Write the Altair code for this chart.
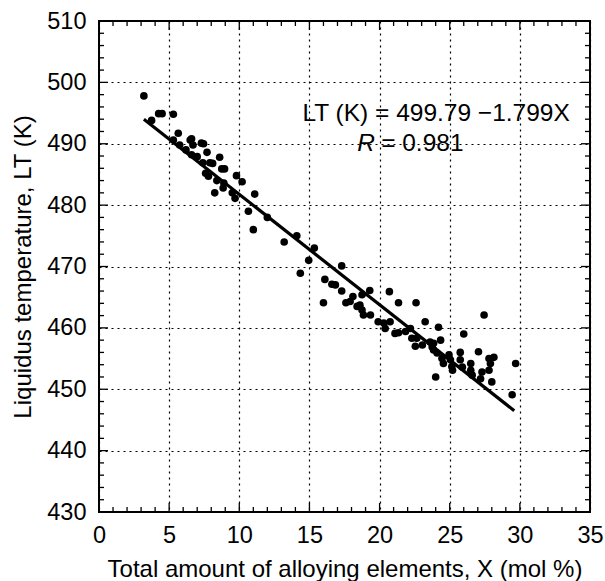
import altair as alt
import pandas as pd

# Scatter data
x_vals = [3.2, 3.75, 4.25, 4.5, 5.3, 5.65, 5.3, 5.75, 6.2, 6.5, 6.7, 6.6, 6.6, 7.0, 7.3, 7.45,
          7.7, 8.6, 7.4, 7.9, 8.1, 7.6, 7.8, 8.75, 8.95, 8.4, 8.9, 9.8, 10.2, 8.25, 8.85, 9.5,
          9.7, 11.1, 10.65, 11.0, 12.0, 13.2, 14.1, 15.35, 14.95, 14.35, 17.3, 16.1, 16.6, 16.85,
          17.3, 16.0, 17.6, 17.9, 18.1, 18.4, 18.75, 19.3, 18.6, 18.75, 18.85, 19.35, 20.7, 21.35,
          22.6, 19.9, 20.3, 20.4, 20.75, 21.1, 21.35, 21.85, 22.2, 23.25, 22.3, 22.65, 22.55, 23.05,
          23.6, 23.85, 23.85, 24.2, 27.45, 26.0, 23.75, 24.1, 24.45, 24.55, 24.35, 24.95, 25.05,
          25.15, 25.2, 24.0, 25.75, 25.75, 25.9, 26.5, 26.5, 26.6, 27.05, 27.3, 27.2, 27.8, 28.15,
          27.9, 27.8, 28.0, 29.7, 29.45]
y_vals = [497.8, 493.8, 494.9, 494.9, 494.8, 491.7, 490.6, 489.8, 489.0, 490.6, 489.8, 490.8, 488.2, 487.9, 490.1, 490.0,
          488.6, 487.8, 486.9, 486.9, 486.8, 485.2, 484.7, 485.9, 485.9, 484.0, 483.6, 484.8, 483.8, 482.0, 482.8, 482.0,
          481.1, 481.8, 479.0, 476.0, 478.0, 474.0, 475.0, 473.0, 471.0, 468.9, 470.1, 467.9, 467.1, 467.0,
          466.0, 464.1, 464.1, 464.3, 465.1, 463.5, 465.4, 466.1, 463.7, 462.9, 462.1, 462.1, 465.9, 464.1,
          464.1, 461.0, 460.8, 459.9, 461.0, 459.1, 459.2, 459.4, 459.9, 461.0, 458.3, 458.3, 457.0, 457.2,
          457.7, 457.5, 456.4, 460.1, 462.1, 459.0, 456.9, 455.9, 455.0, 454.2, 458.0, 455.6, 454.8,
          453.7, 453.1, 452.0, 456.0, 454.8, 453.6, 454.2, 453.1, 452.3, 456.1, 452.8, 451.7, 455.0, 455.2,
          454.2, 453.1, 451.2, 454.2, 449.1]

# Fitted line end points
line_x = [3.2, 29.6]
line_y = [494.0, 446.5]

x_ticks = [0, 5, 10, 15, 20, 25, 30, 35]
y_ticks = [430, 440, 450, 460, 470, 480, 490, 500, 510]
x_minor = [v for v in range(0, 36) if v % 5 != 0]
y_minor = [v for v in range(430, 511, 2) if v % 10 != 0]

eq_text = ["LT (K) = 499.79 \u22121.799X"]
r_label = ["R"]
r_value = ["= 0.981"]

W, H = 491, 491
FONT = "Liberation Sans"
LFS = 23.5
TFS = 24

xs = alt.Scale(domain=[0, 35], nice=False, zero=False)
ys = alt.Scale(domain=[430, 510], nice=False, zero=False)

pts = pd.DataFrame({"x": x_vals, "y": y_vals})
line_df = pd.DataFrame({"x": line_x, "y": line_y})

x_axis = alt.Axis(values=x_ticks, grid=True, gridDash=[2, 4], gridColor="black", gridOpacity=1,
                  gridWidth=1.2, ticks=False, domain=False, labelFontSize=LFS, labelFont=FONT,
                  labelColor="black", labelPadding=11, title="Total amount of alloying elements, X (mol %)",
                  titleFont=FONT, titleFontSize=TFS, titleFontWeight="normal", titleColor="black",
                  titlePadding=11, labelFlush=False)
y_axis = alt.Axis(values=y_ticks, grid=True, gridDash=[2, 4], gridColor="black", gridOpacity=1,
                  gridWidth=1.2, ticks=False, domain=False, labelFontSize=LFS, labelFont=FONT,
                  labelColor="black", labelPadding=13, title="Liquidus temperature, LT (K)",
                  titleFont=FONT, titleFontSize=TFS, titleFontWeight="normal", titleColor="black",
                  titlePadding=11, labelFlush=False)

points = alt.Chart(pts).mark_circle(size=58, color="black", opacity=1).encode(
    x=alt.X("x:Q", scale=xs, axis=x_axis),
    y=alt.Y("y:Q", scale=ys, axis=y_axis),
)

fit = alt.Chart(line_df).mark_line(color="black", strokeWidth=3.2).encode(
    x=alt.X("x:Q", scale=xs), y=alt.Y("y:Q", scale=ys)
)


def vticks(vals, length, top):
    df = pd.DataFrame({"v": vals})
    if top:
        return alt.Chart(df).mark_rule(color="black", strokeWidth=1.3).encode(
            x=alt.X("v:Q", scale=xs), y=alt.value(0), y2=alt.value(length))
    return alt.Chart(df).mark_rule(color="black", strokeWidth=1.3).encode(
        x=alt.X("v:Q", scale=xs), y=alt.value(H), y2=alt.value(H - length))


def hticks(vals, length, left):
    df = pd.DataFrame({"v": vals})
    if left:
        return alt.Chart(df).mark_rule(color="black", strokeWidth=1.3).encode(
            y=alt.Y("v:Q", scale=ys), x=alt.value(0), x2=alt.value(length))
    return alt.Chart(df).mark_rule(color="black", strokeWidth=1.3).encode(
        y=alt.Y("v:Q", scale=ys), x=alt.value(W), x2=alt.value(W - length))


tick_layers = [
    vticks(x_ticks, 9, True), vticks(x_ticks, 9, False),
    vticks(x_minor, 5, True), vticks(x_minor, 5, False),
    hticks(y_ticks, 9, True), hticks(y_ticks, 9, False),
    hticks(y_minor, 5, True), hticks(y_minor, 5, False),
]

eq = alt.Chart(pd.DataFrame({"t": eq_text})).mark_text(
    font=FONT, fontSize=24.5, align="left", baseline="middle", color="black"
).encode(x=alt.datum(14.5, scale=xs), y=alt.datum(494.9, scale=ys), text="t:N")

r1 = alt.Chart(pd.DataFrame({"t": r_label})).mark_text(
    font=FONT, fontSize=24.5, fontStyle="italic", align="left", baseline="middle", color="black"
).encode(x=alt.datum(18.4, scale=xs), y=alt.datum(490.0, scale=ys), text="t:N")

r2 = alt.Chart(pd.DataFrame({"t": r_value})).mark_text(
    font=FONT, fontSize=24.5, align="left", baseline="middle", color="black", dx=24
).encode(x=alt.datum(18.4, scale=xs), y=alt.datum(490.0, scale=ys), text="t:N")

chart = alt.layer(points, fit, *tick_layers, eq, r1, r2).properties(
    width=W, height=H,
    autosize=alt.AutoSizeParams(type="none"),
    padding={"left": 99, "top": 21, "right": 15, "bottom": 69},
    background="white",
).configure_view(stroke="black", strokeWidth=2)

chart.save("out.html", embed_options={"renderer": "svg", "actions": False})
